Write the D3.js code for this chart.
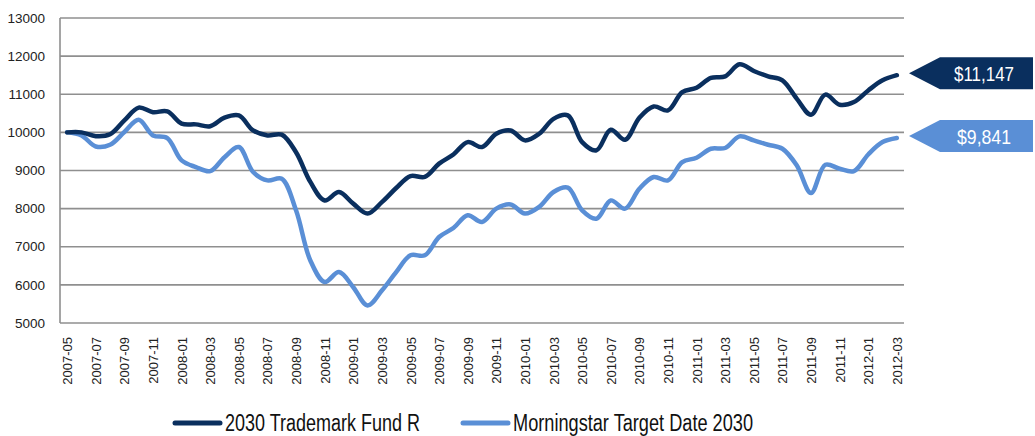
<!DOCTYPE html>
<html lang="en">
<head>
<meta charset="utf-8">
<title>2030 Trademark Fund R vs Morningstar Target Date 2030</title>
<script src="https://d3js.org/d3.v7.min.js"></script>
<style>
  body { margin: 0; background: #fff; }
  .axis text { font-family: "Liberation Sans Narrow", "Arial Narrow", "Liberation Sans", sans-serif; fill: #222; }
  .legend text { font-family: "Liberation Sans Narrow", "Arial Narrow", "Liberation Sans", sans-serif; fill: #111; font-size: 23px; }
  .endlabel { font-family: "Liberation Sans Narrow", "Arial Narrow", "Liberation Sans", sans-serif; fill: #fff; font-size: 21px; }
</style>
</head>
<body>
<div id="chart"></div>
<script>
const w = 1035;
const h = 436;

// monthly categories
const months = [
  "2007-05","2007-06","2007-07","2007-08","2007-09","2007-10","2007-11","2007-12",
  "2008-01","2008-02","2008-03","2008-04","2008-05","2008-06","2008-07","2008-08","2008-09","2008-10","2008-11","2008-12",
  "2009-01","2009-02","2009-03","2009-04","2009-05","2009-06","2009-07","2009-08","2009-09","2009-10","2009-11","2009-12",
  "2010-01","2010-02","2010-03","2010-04","2010-05","2010-06","2010-07","2010-08","2010-09","2010-10","2010-11","2010-12",
  "2011-01","2011-02","2011-03","2011-04","2011-05","2011-06","2011-07","2011-08","2011-09","2011-10","2011-11","2011-12",
  "2012-01","2012-02","2012-03"
];

const fundValues = [
  10000,10000,9900,9950,10315,10650,10530,10550,
  10230,10210,10160,10385,10445,10050,9920,9940,9480,8700,8215,8435,
  8130,7870,8170,8540,8855,8830,9180,9420,9745,9615,9965,10050,
  9790,9965,10355,10445,9745,9530,10070,9805,10385,10680,10575,11055,
  11170,11430,11470,11785,11610,11470,11365,10885,10465,10990,10725,10795,
  11100,11365,11500
];

const benchValues = [
  10000,9920,9630,9675,10010,10330,9920,9850,
  9265,9090,8985,9350,9615,8960,8740,8785,7955,6640,6075,6335,
  5940,5460,5850,6335,6775,6775,7255,7490,7825,7650,8000,8110,
  7870,8045,8435,8550,7955,7735,8215,8000,8520,8830,8740,9220,
  9335,9570,9590,9895,9790,9675,9570,9135,8410,9150,9045,8985,
  9420,9745,9850
];

const seriesNames = ["2030 Trademark Fund R", "Morningstar Target Date 2030"];
const seriesColors = ["#0a2f5e", "#5a8fd6"];
const endLabels = ["$11,147", "$9,841"];
const yTicks = [5000,6000,7000,8000,9000,10000,11000,12000,13000];

const svg = d3.select("#chart").append("svg")
  .attr("width", w)
  .attr("height", h);

const x = d3.scalePoint().domain(months).range([60, 904]).padding(0.5);
const y = d3.scaleLinear().domain([5000, 13000]).range([323, 18]);

// gridlines
svg.append("g")
  .selectAll("line")
  .data(yTicks)
  .join("line")
  .attr("x1", 60)
  .attr("x2", 904)
  .attr("y1", d => y(d))
  .attr("y2", d => y(d))
  .attr("stroke", "#8f8f8f")
  .attr("stroke-width", 1.6);

// left axis line
svg.append("line")
  .attr("x1", 60).attr("x2", 60)
  .attr("y1", y(13000)).attr("y2", y(5000))
  .attr("stroke", "#8f8f8f")
  .attr("stroke-width", 1.6);

// y labels
svg.append("g").attr("class", "axis")
  .selectAll("text")
  .data(yTicks)
  .join("text")
  .attr("x", 45)
  .attr("y", d => y(d))
  .attr("dy", "0.35em")
  .attr("text-anchor", "end")
  .style("font-size", "13.5px")
  .text(d => d);

// x labels every second month
svg.append("g").attr("class", "axis")
  .selectAll("text")
  .data(months.filter((d, i) => i % 2 === 0))
  .join("text")
  .attr("transform", d => `translate(${x(d) + 0.5},337) rotate(-90)`)
  .attr("dy", "0.35em")
  .attr("text-anchor", "end")
  .style("font-size", "13px")
  .text(d => d);

const line = d3.line()
  .x((d, i) => x(months[i]))
  .y(d => y(d))
  .curve(d3.curveCatmullRom.alpha(0.5));

const allSeries = [fundValues, benchValues];

// draw light series first so dark sits on top
[1, 0].forEach(k => {
  svg.append("path")
    .datum(allSeries[k])
    .attr("fill", "none")
    .attr("stroke", seriesColors[k])
    .attr("stroke-width", 4.5)
    .attr("stroke-linejoin", "round")
    .attr("stroke-linecap", "round")
    .attr("d", line);
});

// end value tags
const tagTextW = [60, 54];
allSeries.forEach((vals, k) => {
  const ty = y(vals[vals.length - 1]) - 2;
  const g = svg.append("g");
  g.append("path")
    .attr("d", `M909,${ty} L940,${ty - 16} L1033,${ty - 16} L1033,${ty + 16} L940,${ty + 16} Z`)
    .attr("fill", seriesColors[k]);
  g.append("text")
    .attr("class", "endlabel")
    .attr("x", 984 - tagTextW[k] / 2)
    .attr("y", ty)
    .attr("dy", "0.36em")
    .attr("textLength", tagTextW[k])
    .attr("lengthAdjust", "spacingAndGlyphs")
    .text(endLabels[k]);
});

// legend
const legendX = [175, 463];
const legendW = [195, 240];
const legend = svg.append("g").attr("class", "legend");
seriesNames.forEach((name, k) => {
  legend.append("line")
    .attr("x1", legendX[k]).attr("x2", legendX[k] + 45)
    .attr("y1", 423).attr("y2", 423)
    .attr("stroke", seriesColors[k])
    .attr("stroke-width", 5)
    .attr("stroke-linecap", "round");
  legend.append("text")
    .attr("x", legendX[k] + 50)
    .attr("y", 431)
    .attr("textLength", legendW[k])
    .attr("lengthAdjust", "spacingAndGlyphs")
    .text(name);
});
</script>
</body>
</html>
